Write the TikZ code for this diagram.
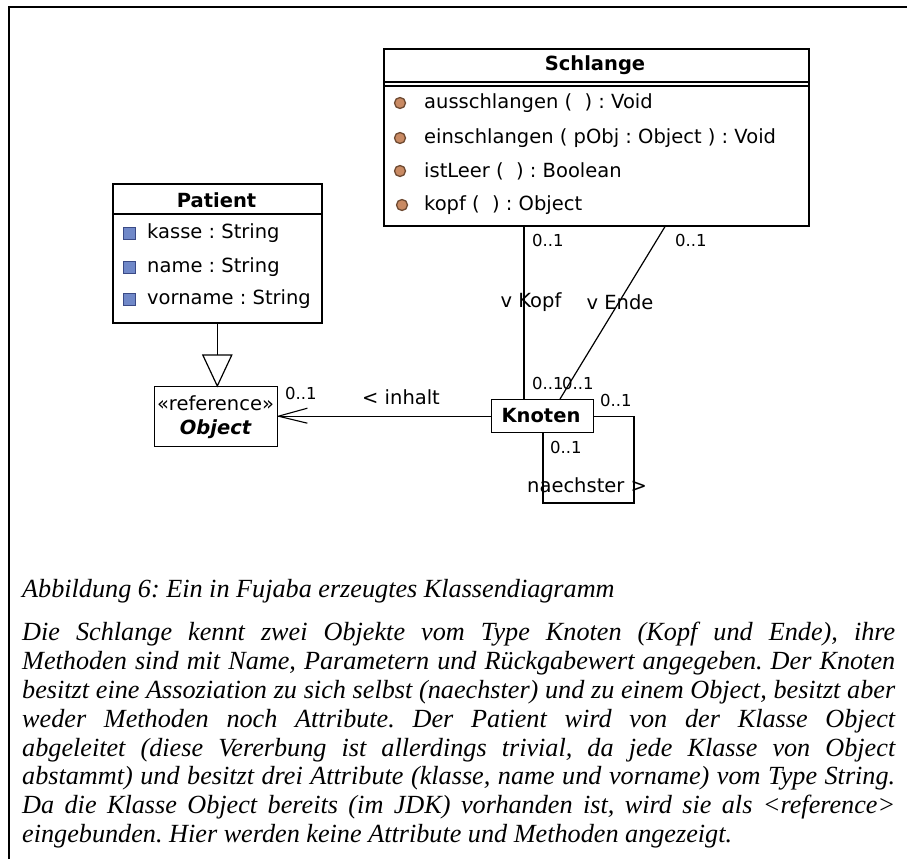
\documentclass[tikz,border=0pt]{standalone}
\usepackage{fontspec}
\setmainfont{Liberation Serif}
\newfontfamily\uifont{DejaVu Sans}
\usetikzlibrary{calc}
\frenchspacing
\definecolor{opfill}{HTML}{C98A63}
\definecolor{opline}{HTML}{6E4A32}
\definecolor{atfill}{HTML}{7088C8}
\definecolor{atline}{HTML}{3A4A86}
\newcommand{\uitext}{\uifont\fontsize{19.5}{23}\selectfont}
\newcommand{\multtext}{\uifont\fontsize{16.5}{19}\selectfont}
\newcommand{\captext}{\fontsize{26.2}{30}\selectfont\itshape}
\tikzset{
  classbox/.style={draw, line width=1.6pt, inner sep=0pt, anchor=north west},
  member/.style={anchor=west, inner sep=0pt, font=\uitext},
  mult/.style={anchor=west, inner sep=0pt, font=\multtext},
  rolelabel/.style={inner sep=0pt, font=\uitext},
  assoc/.style={line width=1.2pt},
  opicon/.style={draw=opline, fill=opfill, line width=1.3pt},
  aticon/.style={draw=atline, fill=atfill, line width=1pt},
  capline/.style={anchor=base west, inner sep=0pt, font=\captext},
}
\begin{document}
\begin{tikzpicture}[x=1pt,y=1pt]
\useasboundingbox (0,0) rectangle (907,-859);
% page frame
\draw[line width=2pt] (9,-859) -- (9,-7) -- (907,-7);

% ---------- class Schlange ----------
\node[classbox, minimum width=425pt, minimum height=177pt] (schlange) at (383,-48) {};
\node[font=\uitext\bfseries, inner sep=0pt] (schlangeName) at (595,-65) {Schlange};
\draw[line width=1.2pt] (383,-82) -- (808,-82);
\draw[line width=1.2pt] (383,-86) -- (808,-86);
\foreach \yy/\txt/\cx [count=\i] in {103/{ausschlangen (\ \ ) : Void}/400,
    138/{einschlangen ( pObj : Object ) : Void}/400,
    171/{istLeer (\ \ ) : Boolean}/400,
    205/{kopf (\ \ ) : Object}/402}{
  \fill[opicon] (\cx,-\yy) circle (5.5pt);
  \node[member] (op\i) at (424,-\yy) {\txt};
}

% ---------- class Patient ----------
\node[classbox, minimum width=209pt, minimum height=139pt] (patient) at (112,-183) {};
\node[font=\uitext\bfseries, inner sep=0pt] (patientName) at (216.5,-200) {Patient};
\draw[line width=1.2pt] (112,-214) -- (321,-214);
\foreach \yy/\txt [count=\i] in {233/{kasse : String}, 267/{name : String}, 299/{vorname : String}}{
  \filldraw[aticon] (123,-\yy+6) rectangle (135,-\yy-6);
  \node[member] (attr\i) at (147,-\yy) {\txt};
}

% ---------- class Object ----------
\node[classbox, line width=1.4pt, minimum width=123pt, minimum height=60pt] (object) at (154,-386) {};
\node[font=\uitext, inner sep=0pt] (objStereo) at (215.5,-403) {«reference»};
\node[font=\uitext\bfseries\itshape, inner sep=0pt] (objName) at (215.5,-429) {Object};

% ---------- class Knoten ----------
\node[classbox, line width=1.4pt, minimum width=102pt, minimum height=33pt] (knoten) at (491,-399) {};
\node[font=\uitext\bfseries, inner sep=0pt] (knotenName) at (541,-416) {Knoten};

% ---------- inheritance Patient -> Object ----------
\coordinate (apex) at (object.north -| patient.south);
\draw[assoc] (patient.south) -- ($(apex)+(0,31)$) coordinate (tribase);
\draw[assoc] (apex) -- ($(tribase)+(-14.5,0)$) -- ($(tribase)+(14.5,0)$) -- cycle;

% ---------- association Knoten -> Object (inhalt) ----------
\coordinate (tip) at (knoten.west -| object.east);
\draw[assoc] (knoten.west) -- (tip);
\draw[line width=1.1pt] (tip) -- ++(29,8);
\draw[line width=1.1pt] (tip) -- ++(29,-7);
\node[rolelabel, anchor=west] (inhaltLbl) at (362,-397) {< inhalt};
\node[mult] (mObj) at (285,-393) {0..1};

% ---------- associations Schlange -> Knoten ----------
\coordinate (kx) at (524,0);
\coordinate (ex1) at (665,0);
\coordinate (ex2) at (560,0);
\draw[assoc] (schlange.south -| kx) -- (knoten.north -| kx);
\draw[assoc] (schlange.south -| ex1) -- (knoten.north -| ex2);
\node[rolelabel] (kopfLbl) at (531,-302) {v Kopf};
\node[rolelabel] (endeLbl) at (620,-302) {v Ende};
\node[mult] (mKopfTop) at (532,-240) {0..1};
\node[mult] (mEndeTop) at (675,-240) {0..1};
\node[mult] (mKopfBot) at (532,-383) {0..1};
\node[mult] (mEndeBot) at (562,-383) {0..1};

% ---------- self association naechster ----------
\coordinate (loopCorner) at (634,-503);
\coordinate (lx) at (543,0);
\draw[assoc] (knoten.east) -- (knoten.east -| loopCorner) -- (loopCorner)
  -- (loopCorner -| lx) -- (knoten.south -| lx);
\node[mult] (mLoopOut) at (600,-400) {0..1};
\node[mult] (mLoopIn) at (550,-447) {0..1};
\node[rolelabel, anchor=west] (naechsterLbl) at (527,-485) {naechster >};

% ---------- caption and description ----------
\node[capline] (cap) at (22,-597) {Abbildung 6: Ein in Fujaba erzeugtes Klassendiagramm};
\foreach \yy/\txt [count=\i] in {
  640/{Die Schlange kennt zwei Objekte vom Type Knoten (Kopf und Ende), ihre},
  669/{Methoden sind mit Name, Parametern und Rückgabewert angegeben. Der Knoten},
  698/{besitzt eine Assoziation zu sich selbst (naechster) und zu einem Object, besitzt aber},
  727/{weder Methoden noch Attribute. Der Patient wird von der Klasse Object},
  756/{abgeleitet (diese Vererbung ist allerdings trivial, da jede Klasse von Object},
  784/{abstammt) und besitzt drei Attribute (klasse, name und vorname) vom Type String.},
  813/{Da die Klasse Object bereits (im JDK) vorhanden ist, wird sie als <reference>}}{
  \node[capline] (desc\i) at (22,-\yy) {\makebox[873pt][s]{\txt}};
}
\node[capline] (desc8) at (22,-842) {eingebunden. Hier werden keine Attribute und Methoden angezeigt.};
\end{tikzpicture}
\end{document}
